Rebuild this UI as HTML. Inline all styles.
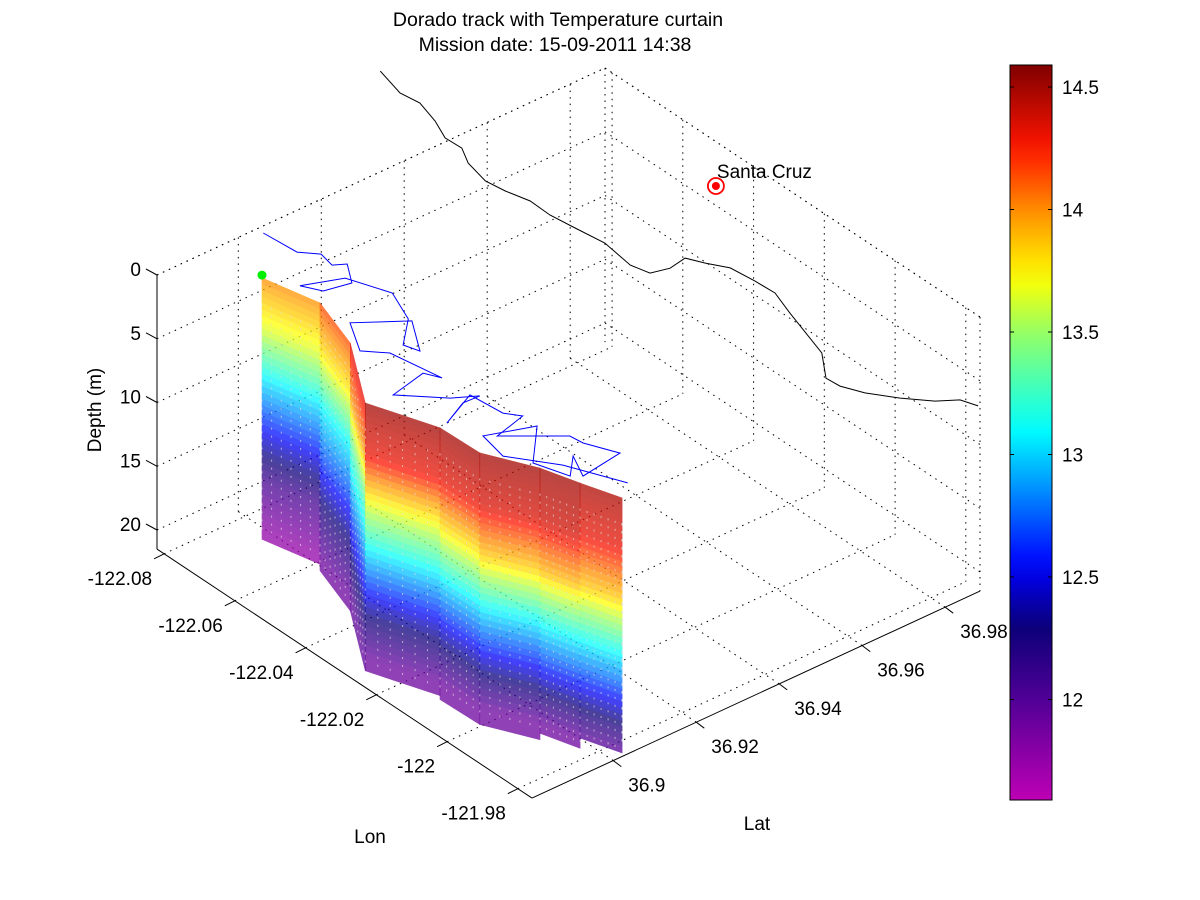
<!DOCTYPE html>
<html><head><meta charset="utf-8"><title>Dorado track with Temperature curtain</title>
<style>
html,body{margin:0;padding:0;background:#fff;}
svg{display:block;font-family:"Liberation Sans",Arial,sans-serif;}
</style></head>
<body>
<svg id="chart" width="1200" height="900" viewBox="0 0 1200 900" xmlns="http://www.w3.org/2000/svg">
<rect x="0" y="0" width="1200" height="900" fill="#fff"/>
<g id="grid"></g>
<g id="coast"></g>
<g id="curtain"></g>
<g id="track"></g>
<g id="axes"></g>
<g id="cbar"></g>
<text x="558" y="26" text-anchor="middle" font-size="19.5">Dorado track with Temperature curtain</text>
<text x="555" y="51" text-anchor="middle" font-size="19.5">Mission date: 15-09-2011 14:38</text>
</svg>
<script>
// ---- data ----
const lonTicks = [-122.08, -122.06, -122.04, -122.02, -122, -121.98];
const lonTickLabels = ["-122.08", "-122.06", "-122.04", "-122.02", "-122", "-121.98"];
const latTicks = [36.9, 36.92, 36.94, 36.96, 36.98];
const latTickLabels = ["36.9", "36.92", "36.94", "36.96", "36.98"];
const depthTicks = [0, 5, 10, 15, 20];
const depthTickLabels = ["0", "5", "10", "15", "20"];
const cbarTicks = [12, 12.5, 13, 13.5, 14, 14.5];
const cbarTickLabels = ["12", "12.5", "13", "13.5", "14", "14.5"];

const trackLon = [-122.0802,-122.0715,-122.0682,-122.0642,-122.0627,-122.0574,-122.0587,-122.0627,-122.0594,-122.0502,-122.0418,-122.0359,-122.0324,-122.0409,-122.0476,-122.0394,-122.0354,-122.0231,-122.0265,-122.0245,-122.0171,-122.0142,-122.0144,-122.0112,-122.0156,-122.0072,-122.0042,-122.0021,-121.9937,-121.9904,-121.9836,-121.9821,-121.9883,-121.9836,-121.9912,-122.0000,-122.0038,-121.9964,-121.9872,-121.9752];
const trackLat = [36.9045,36.9052,36.9082,36.9074,36.9098,36.9064,36.9006,36.8984,36.9065,36.9100,36.9067,36.9004,36.9015,36.9068,36.8976,36.8930,36.8968,36.8989,36.8972,36.8883,36.8957,36.9004,36.8965,36.8899,36.8992,36.9000,36.9022,36.8943,36.9046,36.9050,36.9081,36.8979,36.9008,36.8961,36.8936,36.9021,36.8923,36.8908,36.8974,36.9028];

const coastLon = [-122.1073,-122.0995,-122.0947,-122.0884,-122.0830,-122.0785,-122.0740,-122.0675,-122.0627,-122.0573,-122.0515,-122.0453,-122.0381,-122.0296,-122.0253,-122.0242,-122.0250,-122.0214,-122.0173,-122.0111,-122.0058,-121.9990,-121.9904,-121.9853,-121.9785,-121.9749,-121.9703,-121.9649,-121.9601,-121.9575,-121.9539];
const coastLat = [36.9558,36.9539,36.9546,36.9529,36.9507,36.9509,36.9486,36.9472,36.9479,36.9493,36.9491,36.9499,36.9509,36.9498,36.9509,36.9548,36.9591,36.9609,36.9634,36.9641,36.9644,36.9622,36.9597,36.9582,36.9534,36.9537,36.9558,36.9597,36.9640,36.9678,36.9691];

const stationLon = [-122.0691,-122.0561,-122.0425,-122.0257,-122.0108,-121.9999,-121.9891,-121.9807,-121.9721];
const stationLat = [36.8947,36.8976,36.8933,36.8826,36.8879,36.8882,36.8935,36.8960,36.8988];
const stationMaxDepth = [20.5,21,21,21,21.3,21.3,21.3,20.8,20];
const profileDepths = [0,4,8,12,16,20];
const tempS0 = [13.9,13.5,12.9,12.4,12.0,11.7];
const tempS1 = [14.1,13.8,13.2,12.7,12.1,11.8];
const tempS2 = [14.2,13.7,13.0,12.7,12.4,12.0];
const tempS3 = [14.5,14.3,13.6,13.0,12.4,11.9];
const tempS4 = [14.5,14.3,13.7,13.0,12.4,11.9];
const tempS5 = [14.5,14.35,13.8,13.1,12.5,11.9];
const tempS6 = [14.5,14.35,13.9,13.1,12.5,11.9];
const tempS7 = [14.5,14.4,13.9,13.2,12.6,11.9];
const tempS8 = [14.45,14.2,13.8,13.1,12.5,12.0];
const stationTemps = [tempS0,tempS1,tempS2,tempS3,tempS4,tempS5,tempS6,tempS7,tempS8];

const startLon = [-122.0698];
const startLat = [36.8953];
const cityName = ["Santa Cruz"];
const cityLon = [-122.0395];
const cityLat = [36.9789];

// ---- projection ----
const NS = "http://www.w3.org/2000/svg";
const A = [157, 275];
const lonMin = -122.082, lonMax = -121.976;
const latMin = 36.8804, latMax = 36.9884;
const zMax = 21.5, pxPerM = 12.75;
const LONV = [375, 249], LATV = [448, -207];
function P(lon, lat, d) {
  const u = (lon - lonMin) / (lonMax - lonMin);
  const v = (lat - latMin) / (latMax - latMin);
  return [A[0] + u*LONV[0] + v*LATV[0], A[1] + u*LONV[1] + v*LATV[1] + d*pxPerM];
}
const cMin = 11.59, cMax = 14.59;
const cmapStops = [[11.59,[190,0,180]],[12.0,[80,0,150]],[12.3,[10,0,120]],[12.55,[0,0,255]],[12.85,[0,140,255]],[13.1,[0,255,255]],[13.5,[150,255,100]],[13.72,[255,255,0]],[14.0,[255,140,0]],[14.25,[255,20,0]],[14.59,[128,0,0]]];
function cmap(t) {
  if (t <= cmapStops[0][0]) return cmapStops[0][1];
  for (let i = 1; i < cmapStops.length; i++) {
    if (t <= cmapStops[i][0]) {
      const a = cmapStops[i-1], b = cmapStops[i];
      const f = (t - a[0]) / (b[0] - a[0]);
      return a[1].map((c, k) => Math.round(c + (b[1][k] - c) * f));
    }
  }
  return cmapStops[cmapStops.length-1][1];
}
function rgb(c){return "rgb("+c[0]+","+c[1]+","+c[2]+")";}
function mk(tag, attrs, parent) {
  const e = document.createElementNS(NS, tag);
  for (const k in attrs) e.setAttribute(k, attrs[k]);
  parent.appendChild(e);
  return e;
}
function tempAt(prof, d) {
  if (d <= profileDepths[0]) return prof[0];
  for (let i = 1; i < profileDepths.length; i++) {
    if (d <= profileDepths[i]) {
      const f = (d - profileDepths[i-1]) / (profileDepths[i] - profileDepths[i-1]);
      return prof[i-1] + (prof[i] - prof[i-1]) * f;
    }
  }
  return prof[prof.length-1];
}
function line(parent, p, q, dotted, name) {
  const e = mk("line", {x1:p[0].toFixed(1), y1:p[1].toFixed(1), x2:q[0].toFixed(1), y2:q[1].toFixed(1), stroke:"#000", "stroke-width": 1}, parent);
  if (dotted) e.setAttribute("stroke-dasharray", "1.5 5");
  
  
  return e;
}

// ---- grid ----
const grid = document.getElementById("grid");
latTicks.forEach(lat => {
  line(grid, P(lonMin, lat, 0), P(lonMin, lat, zMax), true, 'grid-line-lat-wall');
  line(grid, P(lonMin, lat, zMax), P(lonMax, lat, zMax), true, 'grid-line-lat-floor');
});
lonTicks.forEach(lon => {
  line(grid, P(lon, latMax, 0), P(lon, latMax, zMax), true, 'grid-line-lon-wall');
  line(grid, P(lon, latMin, zMax), P(lon, latMax, zMax), true, 'grid-line-lon-floor');
});
depthTicks.forEach(d => {
  line(grid, P(lonMin, latMin, d), P(lonMin, latMax, d), true, 'grid-line-depth-left');
  line(grid, P(lonMin, latMax, d), P(lonMax, latMax, d), true, 'grid-line-depth-back');
});
line(grid, P(lonMin, latMax, 0), P(lonMin, latMax, zMax), true, 'box-edge-back');
line(grid, P(lonMax, latMax, 0), P(lonMax, latMax, zMax), true, 'box-edge-right');
line(grid, P(lonMin, latMin, 0), P(lonMin, latMax, 0), true, 'box-edge-top-left');
line(grid, P(lonMin, latMax, 0), P(lonMax, latMax, 0), true, 'box-edge-top-back');

// ---- coastline ----
const coastG = document.getElementById("coast");
const cp = coastLon.map((lo, i) => P(lo, coastLat[i], 0).map(v => v.toFixed(1)).join(",")).join(" ");
const coastLine = mk("polyline", {points: cp, fill: "none", stroke: "#000", "stroke-width": 1}, coastG);



// ---- curtain ----
const cur = document.getElementById("curtain");
const band = 0.5;
for (let i = 0; i < stationLon.length - 1; i++) {
  const seg = mk("g", {opacity: 0.74}, cur);
  
  
  const md = Math.min(stationMaxDepth[i], stationMaxDepth[i+1]);
  for (let d0 = 0; d0 < md - 1e-6; d0 += band) {
    const d1 = Math.min(d0 + band, md);
    const dm = (d0 + d1) / 2;
    const t = (tempAt(stationTemps[i], dm) + tempAt(stationTemps[i+1], dm)) / 2;
    const pts = [P(stationLon[i], stationLat[i], d0), P(stationLon[i+1], stationLat[i+1], d0), P(stationLon[i+1], stationLat[i+1], d1), P(stationLon[i], stationLat[i], d1)];
    const col = rgb(cmap(t));
    const poly = mk("polygon", {points: pts.map(p => p[0].toFixed(1)+","+p[1].toFixed(1)).join(" "), fill: col, stroke: col, "stroke-width": 0.6}, seg);
    
    
  }
}
// sample-point dotted verticals
stationLon.forEach((lo, i) => {
  for (let k = 0; k < 6; k++) {
    const f = k / 6;
    const j = Math.min(i + 1, stationLon.length - 1);
    const lon = lo + (stationLon[j] - lo) * f, lat = stationLat[i] + (stationLat[j] - stationLat[i]) * f;
    const p = P(lon, lat, 2), q = P(lon, lat, stationMaxDepth[i] - 0.5);
    const s = mk("line", {x1: p[0].toFixed(1), y1: p[1].toFixed(1), x2: q[0].toFixed(1), y2: q[1].toFixed(1), stroke: "#dddddd", "stroke-width": 1, "stroke-dasharray": "2 6", opacity: 0.7}, cur);
    
    
  }
});

// ---- track ----
const trG = document.getElementById("track");
const tp = trackLon.map((lo, i) => P(lo, trackLat[i], 0).map(v => v.toFixed(1)).join(",")).join(" ");
const trLine = mk("polyline", {points: tp, fill: "none", stroke: "#0000ff", "stroke-width": 1}, trG);


const sp = P(startLon[0], startLat[0], 0);
const sdot = mk("circle", {cx: sp[0].toFixed(1), cy: sp[1].toFixed(1), r: 4.5, fill: "#00ee00"}, trG);


const cpt = P(cityLon[0], cityLat[0], 0);
const ring = mk("circle", {cx: cpt[0].toFixed(1), cy: cpt[1].toFixed(1), r: 8, fill: "none", stroke: "#ff0000", "stroke-width": 1.8}, trG);


const cdot = mk("circle", {cx: cpt[0].toFixed(1), cy: cpt[1].toFixed(1), r: 4, fill: "#ff0000"}, trG);


const ct = mk("text", {x: (cpt[0] + 1).toFixed(1), y: (cpt[1] - 8).toFixed(1), "font-size": 19}, trG);
ct.textContent = cityName[0];



// ---- axes ----
const ax = document.getElementById("axes");
const FS = 19;
line(ax, P(lonMin, latMin, 0), P(lonMin, latMin, zMax), false, 'depth-axis');
line(ax, P(lonMin, latMin, zMax), P(lonMax, latMin, zMax), false, 'lon-axis');
line(ax, P(lonMax, latMin, zMax), P(lonMax, latMax, zMax), false, 'lat-axis');
depthTicks.forEach((d, i) => {
  const p = P(lonMin, latMin, d);
  line(ax, p, [p[0] - 11, p[1] - 6], false, 'depth-tick');
  const t = mk("text", {x: (p[0] - 16).toFixed(1), y: (p[1] + 1).toFixed(1), "text-anchor": "end", "font-size": FS}, ax);
  t.textContent = depthTickLabels[i];
  
  
});
lonTicks.forEach((lo, i) => {
  const p = P(lo, latMin, zMax);
  line(ax, p, [p[0] - 10, p[1] + 5], false, 'lon-tick');
  const t = mk("text", {x: (p[0] - 12).toFixed(1), y: (p[1] + 31).toFixed(1), "text-anchor": "end", "font-size": FS}, ax);
  t.textContent = lonTickLabels[i];
  
  
});
latTicks.forEach((la, i) => {
  const p = P(lonMax, la, zMax);
  line(ax, p, [p[0] + 8, p[1] + 6], false, 'lat-tick');
  const t = mk("text", {x: (p[0] + 15).toFixed(1), y: (p[1] + 31).toFixed(1), "font-size": FS}, ax);
  t.textContent = latTickLabels[i];
  
  
});
const lonT = mk("text", {x: 370, y: 843, "text-anchor": "middle", "font-size": FS}, ax);
lonT.textContent = "Lon";


const latT = mk("text", {x: 757, y: 830, "text-anchor": "middle", "font-size": FS}, ax);
latT.textContent = "Lat";


const dT = mk("text", {x: 0, y: 0, "text-anchor": "middle", "font-size": FS, transform: "translate(101,410) rotate(-90)"}, ax);
dT.textContent = "Depth (m)";



// ---- colorbar ----
const cb = document.getElementById("cbar");
const CBX = 1010, CBW = 42, CBT = 65, CBB = 800;
const defs = mk("defs", {}, cb);
const grad = mk("linearGradient", {id: "cbgrad", x1: 0, y1: 1, x2: 0, y2: 0}, defs);
for (let k = 0; k <= 30; k++) {
  const t = cMin + (cMax - cMin) * k / 30;
  mk("stop", {offset: (k / 30).toFixed(3), "stop-color": rgb(cmap(t))}, grad);
}
const cbr = mk("rect", {x: CBX, y: CBT, width: CBW, height: CBB - CBT, fill: "url(#cbgrad)", stroke: "#000", "stroke-width": 1}, cb);


function cy(t){return CBB - (t - cMin) / (cMax - cMin) * (CBB - CBT);}
cbarTicks.forEach((t, i) => {
  const y = cy(t);
  line(cb, [CBX, y], [CBX + 4, y], false, 'colorbar-tick-left');
  line(cb, [CBX + CBW - 4, y], [CBX + CBW, y], false, 'colorbar-tick-right');
  const tx = mk("text", {x: CBX + CBW + 10, y: (y + 7).toFixed(1), "font-size": FS}, cb);
  tx.textContent = cbarTickLabels[i];
  
  
});
</script>
</body></html>
